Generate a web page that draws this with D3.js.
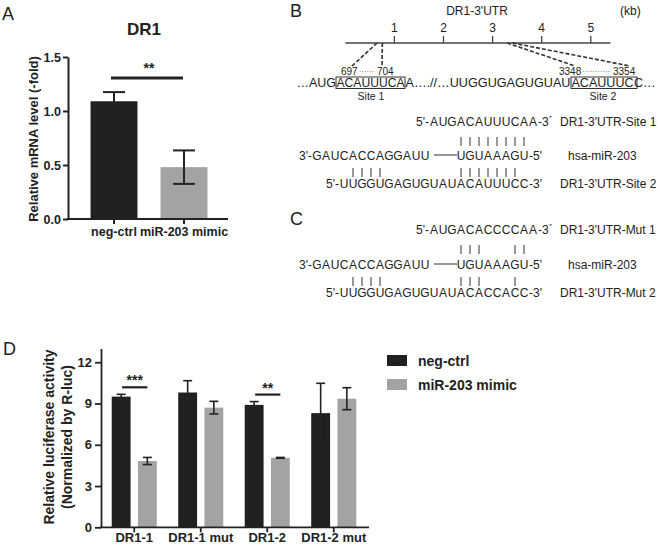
<!DOCTYPE html>
<html><head><meta charset="utf-8">
<script src="https://cdn.jsdelivr.net/npm/d3@7"></script>
<style>
body{margin:0;background:#fff}
svg{display:block}
text{font-family:"Liberation Sans",Arial,Helvetica,sans-serif;fill:#222}
</style>
</head><body>
<script>
// ---------- Panel A data ----------
const mrnaCategories = ["neg-ctrl", "miR-203 mimic"];
const mrnaValues = [1.09, 0.48];
const mrnaErrors = [0.085, 0.155];
const mrnaTicks = [0, 0.5, 1.0, 1.5];

// ---------- Panel D data ----------
const lucCategories = ["DR1-1", "DR1-1 mut", "DR1-2", "DR1-2 mut"];
const lucSeries = ["neg-ctrl", "miR-203 mimic"];
const lucNegCtrl = [9.5, 9.8, 8.9, 8.3];
const lucNegCtrlErr = [0.17, 0.86, 0.24, 2.17];
const lucMimic = [4.82, 8.7, 5.05, 9.35];
const lucMimicErr = [0.26, 0.46, 0.03, 0.8];
const lucTicks = [0, 3, 6, 9, 12];
const lucSignif = [{cat: "DR1-1", label: "***"}, {cat: "DR1-2", label: "**"}];

// ---------- Panel B / C data ----------
const kbTicks = [1, 2, 3, 4, 5];
const siteStarts = [697, 3348];
const siteEnds = [704, 3354];
const siteNames = ["Site 1", "Site 2"];
const mirLeft = "GAUCACCAGGAUU";
const mirSeed = "UGUAAAGU";
const site1Seq = "AUGACAUUUCAA";
const site2Seq = "UUGGUGAGUGUAUACAUUUCC";
const mut1Seq = "AUGACACCCCAA";
const mut2Seq = "UUGGUGAGUGUAUACACCACC";
const site1Pairs = [16,17,18,19,20,21,22,23];
const site2Pairs = [4,5,6,7,16,17,18,19,20,21,22];
const mut1Pairs = [16,17,18,22,23];
const mut2Pairs = [4,5,6,7,16,17,18,22];

const colors = ["#202020", "#a3a3a3"];
const ink = "#222";

const svg = d3.select("body").append("svg").attr("width", 660).attr("height", 548);

function panelLetter(t, x, y) {
  svg.append("text").attr("x", x).attr("y", y).attr("font-size", 18).text(t);
}
panelLetter("A", 2, 20);
panelLetter("B", 290, 17);
panelLetter("C", 290, 225);
panelLetter("D", 3, 355);

// ================= Panel A =================
(function () {
  const g = svg.append("g");
  const x = d3.scaleBand().domain(mrnaCategories).range([79, 219]).paddingInner(0.33).paddingOuter(0.165);
  const y = d3.scaleLinear().domain([0, 1.5]).range([219, 57]);

  g.append("text").attr("x", 144).attr("y", 35).attr("text-anchor", "middle")
    .attr("font-size", 17).attr("font-weight", "bold").text("DR1");

  g.selectAll("rect.bar").data(mrnaValues).join("rect")
    .attr("x", (d, i) => x(mrnaCategories[i])).attr("width", x.bandwidth())
    .attr("y", d => y(d)).attr("height", d => y(0) - y(d))
    .attr("fill", (d, i) => colors[i]);

  const eb = g.selectAll("g.err").data(mrnaValues).join("g");
  eb.append("line")
    .attr("x1", (d, i) => x(mrnaCategories[i]) + x.bandwidth() / 2)
    .attr("x2", (d, i) => x(mrnaCategories[i]) + x.bandwidth() / 2)
    .attr("y1", (d, i) => y(d - mrnaErrors[i])).attr("y2", (d, i) => y(d + mrnaErrors[i]))
    .attr("stroke", ink).attr("stroke-width", 2);
  [1, -1].forEach(s => {
    eb.append("line")
      .attr("x1", (d, i) => x(mrnaCategories[i]) + x.bandwidth() / 2 - 11)
      .attr("x2", (d, i) => x(mrnaCategories[i]) + x.bandwidth() / 2 + 11)
      .attr("y1", (d, i) => y(d + s * mrnaErrors[i])).attr("y2", (d, i) => y(d + s * mrnaErrors[i]))
      .attr("stroke", ink).attr("stroke-width", 2);
  });

  const ya = g.append("g").attr("transform", "translate(68,0)")
    .call(d3.axisLeft(y).tickValues(mrnaTicks).tickFormat(d3.format(".1f")).tickSize(5).tickSizeOuter(0));
  ya.select(".domain").attr("stroke", ink).attr("stroke-width", 2);
  ya.selectAll(".tick line").attr("stroke", ink).attr("stroke-width", 2);
  ya.selectAll(".tick text").attr("font-size", 12.5).attr("font-weight", "bold").attr("fill", ink)
    .attr("font-family", '"Liberation Sans",Arial,sans-serif').attr("x", -7);

  const xa = g.append("g").attr("transform", "translate(0,219)")
    .call(d3.axisBottom(x).tickSize(5).tickSizeOuter(0));
  xa.select(".domain").remove();
  xa.selectAll(".tick line").attr("stroke", ink).attr("stroke-width", 2);
  xa.selectAll(".tick text").attr("font-size", 12.5).attr("font-weight", "bold").attr("fill", ink)
    .attr("font-family", '"Liberation Sans",Arial,sans-serif').attr("y", 8);
  g.append("line").attr("x1", 67).attr("x2", 228).attr("y1", 219).attr("y2", 219)
    .attr("stroke", ink).attr("stroke-width", 2);

  const c0 = x(mrnaCategories[0]) + x.bandwidth() / 2, c1 = x(mrnaCategories[1]) + x.bandwidth() / 2;
  g.append("line").attr("x1", c0 - 3).attr("x2", c1 - 1).attr("y1", 78).attr("y2", 78)
    .attr("stroke", ink).attr("stroke-width", 3);
  g.append("text").attr("x", (c0 + c1) / 2).attr("y", 73).attr("text-anchor", "middle")
    .attr("font-size", 14).attr("font-weight", "bold").text("**");

  g.append("text").attr("transform", "translate(37.5,139) rotate(-90)").attr("text-anchor", "middle")
    .attr("font-size", 13).attr("font-weight", "bold").text("Relative mRNA level (-fold)");
})();

// ================= Panel B (map) =================
(function () {
  const g = svg.append("g");
  const kb = d3.scaleLinear().domain([0, 5]).range([345.3, 590.8]);
  const yl = 43;
  g.append("text").attr("x", 477).attr("y", 15).attr("text-anchor", "middle").attr("font-size", 12).text("DR1-3'UTR");
  g.append("text").attr("x", 620).attr("y", 15).attr("font-size", 12).text("(kb)");
  g.append("line").attr("x1", kb(0)).attr("x2", kb(5.4)).attr("y1", yl).attr("y2", yl)
    .attr("stroke", "#444").attr("stroke-width", 1.3);
  g.selectAll("line.kt").data(kbTicks).join("line")
    .attr("x1", d => kb(d)).attr("x2", d => kb(d)).attr("y1", yl - 7).attr("y2", yl)
    .attr("stroke", "#444").attr("stroke-width", 1.3);
  g.selectAll("text.kl").data(kbTicks).join("text")
    .attr("x", d => kb(d)).attr("y", 32).attr("text-anchor", "middle").attr("font-size", 12).text(d => d);

  const ends = [[352, 382], [575, 630]];
  siteStarts.forEach((s, i) => {
    const xs = kb(s / 1000) - 2.5, xe = kb(siteEnds[i] / 1000) + 2.5;
    g.append("line").attr("x1", xs).attr("y1", yl).attr("x2", ends[i][0]).attr("y2", 66)
      .attr("stroke", "#333").attr("stroke-width", 1.6).attr("stroke-dasharray", "4,2");
    g.append("line").attr("x1", xe).attr("y1", yl).attr("x2", ends[i][1]).attr("y2", 66)
      .attr("stroke", "#333").attr("stroke-width", 1.6).attr("stroke-dasharray", "4,2");
  });

  const posX = [[341, 377], [559, 613]];
  siteStarts.forEach((s, i) => {
    const t1 = g.append("text").attr("x", posX[i][0]).attr("y", 75).attr("font-size", 10).text(s);
    g.append("text").attr("x", posX[i][1]).attr("y", 75).attr("font-size", 10).text(siteEnds[i]);
    const w1 = t1.node().getComputedTextLength();
    g.append("line").attr("x1", posX[i][0] + w1 + 2).attr("x2", posX[i][1] - 2).attr("y1", 71.5).attr("y2", 71.5)
      .attr("stroke", "#777").attr("stroke-width", 0.8).attr("stroke-dasharray", "1,1.5");
  });

  const fs = 12.5, yb = 86.5;
  g.append("text").attr("x", 336).attr("y", yb).attr("text-anchor", "end").attr("font-size", fs).text("…AUG");
  g.append("text").attr("x", 336.5).attr("y", yb).attr("font-size", fs)
    .attr("textLength", 68).attr("lengthAdjust", "spacingAndGlyphs").text("ACAUUUCA");
  g.append("text").attr("x", 405.5).attr("y", yb).attr("font-size", fs)
    .attr("textLength", 165).attr("lengthAdjust", "spacingAndGlyphs").text("A….//…UUGGUGAGUGUAU");
  g.append("text").attr("x", 571.5).attr("y", yb).attr("font-size", fs)
    .attr("textLength", 62).attr("lengthAdjust", "spacingAndGlyphs").text("ACAUUUC");
  g.append("text").attr("x", 634).attr("y", yb).attr("font-size", fs).text("C…");
  const boxes = [[336, 405], [571, 637]];
  boxes.forEach(b => {
    g.append("rect").attr("x", b[0]).attr("y", 77).attr("width", b[1] - b[0]).attr("height", 11.5)
      .attr("fill", "none").attr("stroke", "#333").attr("stroke-width", 1);
  });
  const siteLabelX = [371, 603];
  siteNames.forEach((n, i) => {
    g.append("text").attr("x", siteLabelX[i]).attr("y", 100).attr("text-anchor", "middle").attr("font-size", 10.5).text(n);
  });
})();

// ================= Alignments (B and C) =================
const gx = c => 317 + 9 * c;
function letters(g, seq, start, y) {
  g.selectAll(null).data(seq.split("")).join("text")
    .attr("x", (d, i) => gx(start + i)).attr("y", y).attr("text-anchor", "middle")
    .attr("font-size", 12).text(d => d);
}
function mrnaRow(g, y, seq, start, suffix, label) {
  g.append("text").attr("x", gx(start) - 5).attr("y", y).attr("text-anchor", "end").attr("font-size", 12).text("5'-");
  letters(g, seq, start, y);
  g.append("text").attr("x", gx(start + seq.length - 1) + 5).attr("y", y).attr("font-size", 12).text(suffix);
  g.append("text").attr("x", 560).attr("y", y).attr("font-size", 12).text(label);
}
function mirRow(g, y) {
  g.append("text").attr("x", gx(0) - 5).attr("y", y).attr("text-anchor", "end").attr("font-size", 12).text("3'-");
  letters(g, mirLeft, 0, y);
  g.append("line").attr("x1", gx(12) + 9).attr("x2", gx(16) - 4).attr("y1", y - 4.5).attr("y2", y - 4.5)
    .attr("stroke", "#333").attr("stroke-width", 1);
  letters(g, mirSeed, 16, y);
  g.append("text").attr("x", gx(16 + mirSeed.length - 1) + 5).attr("y", y).attr("font-size", 12).text("-5'");
  g.append("text").attr("x", 568).attr("y", y).attr("font-size", 12).text("hsa-miR-203");
}
function pairBars(g, cols, y1, y2) {
  g.selectAll(null).data(cols).join("line")
    .attr("x1", d => gx(d)).attr("x2", d => gx(d)).attr("y1", y1).attr("y2", y2)
    .attr("stroke", "#333").attr("stroke-width", 1);
}
(function () {
  const g = svg.append("g");
  mrnaRow(g, 125.5, site1Seq, 13, "-3´", "DR1-3'UTR-Site 1");
  pairBars(g, site1Pairs, 137, 146);
  mirRow(g, 159.5);
  pairBars(g, site2Pairs, 168, 177);
  mrnaRow(g, 187.5, site2Seq, 3, "-3'", "DR1-3'UTR-Site 2");

  mrnaRow(g, 233.5, mut1Seq, 13, "-3´", "DR1-3'UTR-Mut 1");
  pairBars(g, mut1Pairs, 245, 254);
  mirRow(g, 268.5);
  pairBars(g, mut2Pairs, 277, 286);
  mrnaRow(g, 296.5, mut2Seq, 3, "-3'", "DR1-3'UTR-Mut 2");
})();

// ================= Panel D =================
(function () {
  const g = svg.append("g");
  const x = d3.scaleBand().domain(lucCategories).range([101, 367]);
  const xs = d3.scaleBand().domain(lucSeries).range([-5, x.bandwidth() + 5]).paddingInner(0.28).paddingOuter(0.6);
  const y = d3.scaleLinear().domain([0, 13]).range([527.3, 348.5]);
  const vals = [lucNegCtrl, lucMimic], errs = [lucNegCtrlErr, lucMimicErr];

  lucSeries.forEach((s, si) => {
    const gg = g.append("g");
    gg.selectAll("rect").data(vals[si]).join("rect")
      .attr("x", (d, i) => x(lucCategories[i]) + xs(s)).attr("width", xs.bandwidth())
      .attr("y", d => y(d)).attr("height", d => y(0) - y(d)).attr("fill", colors[si]);
    const cx = i => x(lucCategories[i]) + xs(s) + xs.bandwidth() / 2;
    gg.selectAll("line.v").data(vals[si]).join("line")
      .attr("x1", (d, i) => cx(i)).attr("x2", (d, i) => cx(i))
      .attr("y1", (d, i) => y(d - errs[si][i])).attr("y2", (d, i) => y(d + errs[si][i]))
      .attr("stroke", ink).attr("stroke-width", 1.6);
    [1, -1].forEach(sg => {
      gg.selectAll(null).data(vals[si]).join("line")
        .attr("x1", (d, i) => cx(i) - 4.5).attr("x2", (d, i) => cx(i) + 4.5)
        .attr("y1", (d, i) => y(d + sg * errs[si][i])).attr("y2", (d, i) => y(d + sg * errs[si][i]))
        .attr("stroke", ink).attr("stroke-width", 1.6);
    });
  });

  const ya = g.append("g").attr("transform", "translate(101,0)")
    .call(d3.axisLeft(y).tickValues(lucTicks).tickSize(6).tickSizeOuter(0));
  ya.select(".domain").attr("stroke", ink).attr("stroke-width", 1.8);
  ya.selectAll(".tick line").attr("stroke", ink).attr("stroke-width", 1.8);
  ya.selectAll(".tick text").attr("font-size", 13).attr("font-weight", "bold").attr("fill", ink)
    .attr("font-family", '"Liberation Sans",Arial,sans-serif').attr("x", -9);

  const xa = g.append("g").attr("transform", "translate(0,527.3)")
    .call(d3.axisBottom(x).tickSize(5).tickSizeOuter(0));
  xa.select(".domain").remove();
  xa.selectAll(".tick line").attr("stroke", ink).attr("stroke-width", 1.8);
  xa.selectAll(".tick text").attr("font-size", 13).attr("font-weight", "bold").attr("fill", ink)
    .attr("font-family", '"Liberation Sans",Arial,sans-serif').attr("y", 5);
  g.append("line").attr("x1", 100).attr("x2", 369).attr("y1", 527.3).attr("y2", 527.3)
    .attr("stroke", ink).attr("stroke-width", 1.8);

  lucSignif.forEach(sg => {
    const i = lucCategories.indexOf(sg.cat);
    const a = x(sg.cat) + xs(lucSeries[0]) + xs.bandwidth() / 2;
    const b = x(sg.cat) + xs(lucSeries[1]) + xs.bandwidth() / 2;
    const top = Math.max(lucNegCtrl[i] + lucNegCtrlErr[i], lucMimic[i] + lucMimicErr[i]);
    const ly = y(top) - 7;
    g.append("line").attr("x1", a + 1).attr("x2", b).attr("y1", ly).attr("y2", ly)
      .attr("stroke", ink).attr("stroke-width", 2.2);
    g.append("text").attr("x", (a + b) / 2 + 0.5).attr("y", ly - 2).attr("text-anchor", "middle")
      .attr("font-size", 14).attr("font-weight", "bold").text(sg.label);
  });

  g.append("text").attr("transform", "translate(54,437) rotate(-90)").attr("text-anchor", "middle")
    .attr("font-size", 14).attr("font-weight", "bold").text("Relative luciferase activity");
  g.append("text").attr("transform", "translate(71.5,437) rotate(-90)").attr("text-anchor", "middle")
    .attr("font-size", 14).attr("font-weight", "bold").text("(Normalized by R-luc)");

  lucSeries.forEach((s, i) => {
    g.append("rect").attr("x", 387).attr("y", 355 + i * 24).attr("width", 20).attr("height", 11).attr("fill", colors[i]);
    g.append("text").attr("x", 418).attr("y", 366 + i * 24).attr("font-size", 14).attr("font-weight", "bold").text(s);
  });
})();
</script>
</body></html>
